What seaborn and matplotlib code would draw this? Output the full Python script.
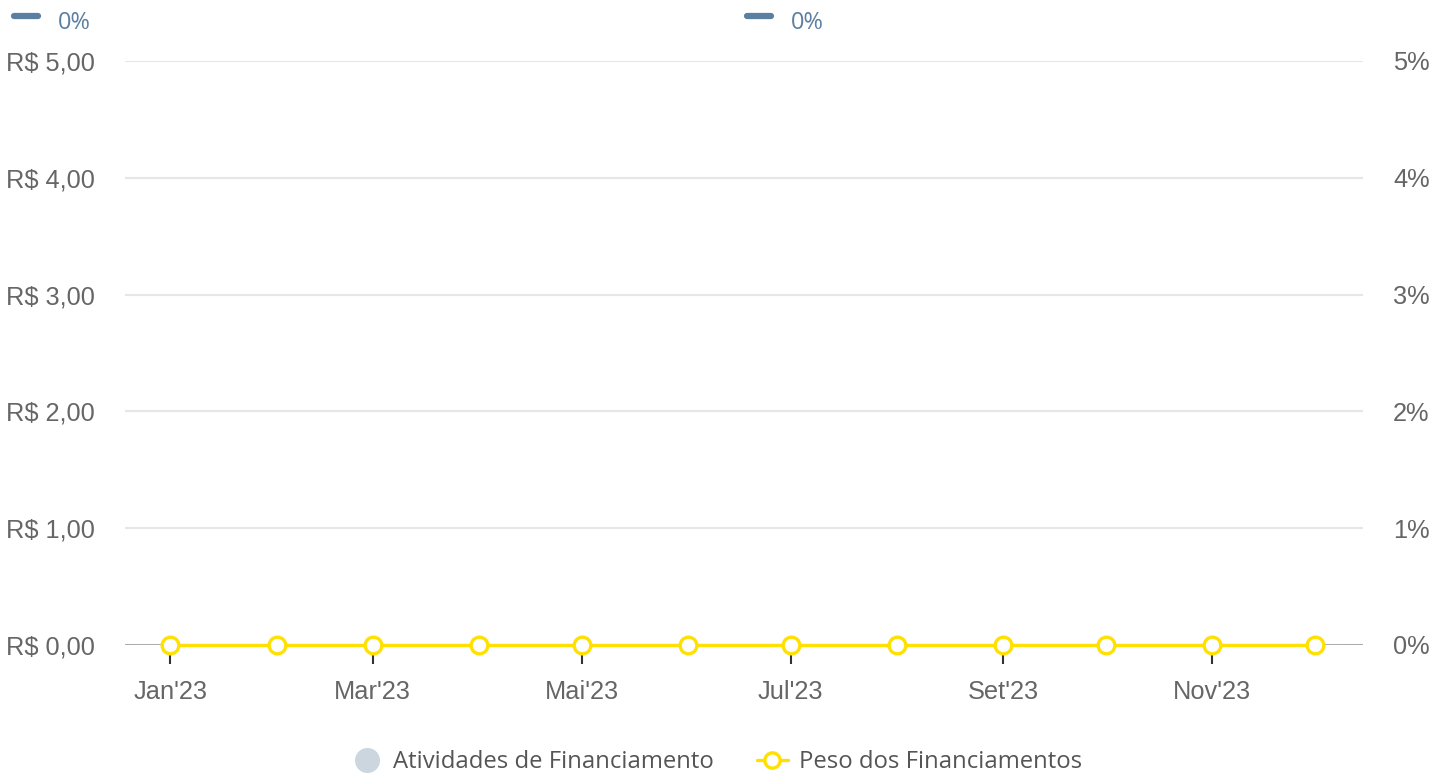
import matplotlib
matplotlib.use("Agg")
import matplotlib.pyplot as plt
from matplotlib.lines import Line2D
from matplotlib.ticker import FuncFormatter
import seaborn as sns
import pandas as pd

months = ["2023-01-01", "2023-02-01", "2023-03-01", "2023-04-01", "2023-05-01", "2023-06-01",
          "2023-07-01", "2023-08-01", "2023-09-01", "2023-10-01", "2023-11-01", "2023-12-01"]
atividades = [0, 0, 0, 0, 0, 0, 0, 0, 0, 0, 0, 0]
peso = [0, 0, 0, 0, 0, 0, 0, 0, 0, 0, 0, 0]
tick_months = ["2023-01-01", "2023-03-01", "2023-05-01", "2023-07-01", "2023-09-01", "2023-11-01"]
tick_labels = ["Jan'23", "Mar'23", "Mai'23", "Jul'23", "Set'23", "Nov'23"]
left_ticks = [0, 1, 2, 3, 4, 5]
right_ticks = [0, 0.01, 0.02, 0.03, 0.04, 0.05]
header_labels = ["0%", "0%"]
series_names = ["Atividades de Financiamento", "Peso dos Financiamentos"]

sns.set_theme(style="white")
plt.rcParams["font.family"] = ["Liberation Sans", "DejaVu Sans"]

df = pd.DataFrame({"mes": pd.to_datetime(months), "atividades": atividades, "peso": peso})

fig = plt.figure(figsize=(14.33, 7.73), dpi=100)
ax = fig.add_axes([0.0872, 0.1656, 0.8640, 0.7555])
ax2 = ax.twinx()

bar_color = "#ccd6de"
line_color = "#ffe000"

ax.bar(df["mes"], df["atividades"], width=20, color=bar_color, zorder=2)
sns.lineplot(data=df, x="mes", y="peso", ax=ax2, color=line_color, linewidth=2.4,
             marker="o", markersize=12, markerfacecolor="white", markeredgecolor=line_color,
             markeredgewidth=2.4, zorder=5, clip_on=False)

xmin = pd.Timestamp("2022-12-18 18:00")
xmax = pd.Timestamp("2023-12-15")
ax.set_xlim(xmin, xmax)
ax.set_ylim(0, 5)
ax2.set_ylim(0, 0.05)

ax.set_yticks(left_ticks)
ax.set_yticklabels(["R$ " + f"{v:.2f}".replace(".", ",") for v in left_ticks])
ax2.set_yticks(right_ticks)
ax2.yaxis.set_major_formatter(FuncFormatter(lambda v, p: f"{v*100:.0f}%"))

ax.set_xticks(pd.to_datetime(tick_months))
ax.set_xticklabels(tick_labels)

ax.grid(axis="y", color="#e6e6e6", linewidth=1.5)
ax.grid(axis="x", visible=False)
ax2.grid(False)
ax.set_xlabel("")
ax.set_ylabel("")
ax2.set_xlabel("")
ax2.set_ylabel("")

for a in (ax, ax2):
    for s in a.spines.values():
        s.set_visible(False)
ax.axhline(0, color="#999999", linewidth=1.8, zorder=3)

ax.tick_params(axis="x", length=14, width=1.5, color="#333333", pad=11,
               labelsize=18.3, labelcolor="#666666", direction="out", bottom=True)
ax.tick_params(axis="y", length=0, pad=21.6, labelsize=18.3, labelcolor="#666666")
ax2.tick_params(axis="y", length=0, pad=21.6, labelsize=18.3, labelcolor="#666666")
for lab in ax2.get_yticklabels():
    lab.set_horizontalalignment("left")

# header labels
hdr_color = "#5b7fa0"
for x0, txt in zip([0.0098, 0.5213], header_labels):
    fig.add_artist(Line2D([x0, x0 + 0.0170], [0.9787, 0.9787], transform=fig.transFigure,
                          color=hdr_color, linewidth=4.5, solid_capstyle="round"))
    fig.text(x0 + 0.0307, 0.9700, txt, color=hdr_color, fontsize=17,
             family=["Open Sans", "DejaVu Sans"], va="center", ha="left")

handles = [
    Line2D([], [], linestyle="none", marker="o", markersize=17, markerfacecolor=bar_color,
           markeredgecolor=bar_color),
    Line2D([], [], color=line_color, linewidth=2.4, marker="o", markersize=11,
           markerfacecolor="white", markeredgecolor=line_color, markeredgewidth=2.4),
]
leg = fig.legend(handles, series_names, loc="center", bbox_to_anchor=(0.5, 0.014),
                 ncol=2, frameon=False, handlelength=1.3, handletextpad=0.45, columnspacing=1.8,
                 prop={"family": ["Open Sans", "DejaVu Sans"], "size": 17.2})
for t in leg.get_texts():
    t.set_color("#555555")

fig.savefig("out.png", dpi=100)
